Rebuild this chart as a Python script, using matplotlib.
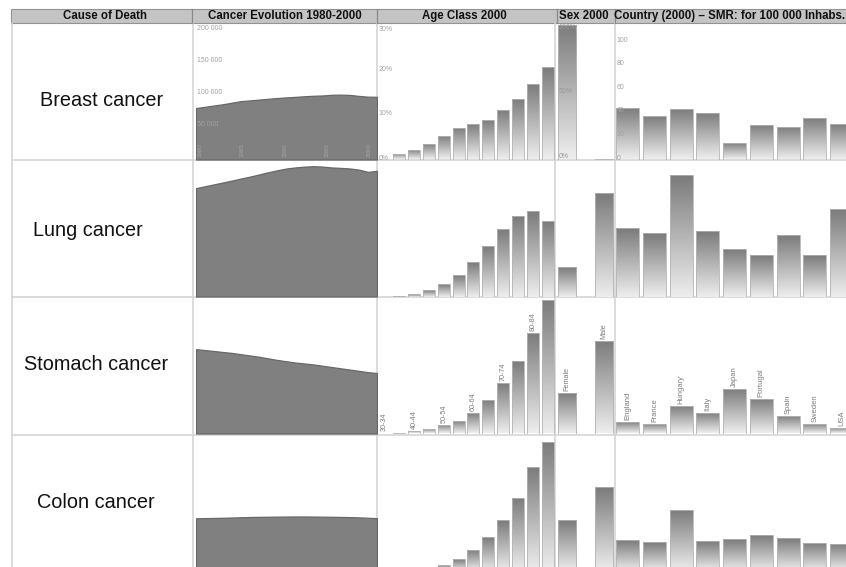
import numpy as np
import matplotlib
matplotlib.use('Agg')
import matplotlib.pyplot as plt
from matplotlib.colors import LinearSegmentedColormap
from matplotlib.patches import Rectangle
from matplotlib.lines import Line2D

plt.rcParams['font.family'] = ['Liberation Sans', 'DejaVu Sans']

# ---------------- data ----------------
headers = ["Cause of Death", "Cancer Evolution 1980-2000", "Age Class 2000",
           "Sex 2000", "Country (2000) \u2013 SMR: for 100 000 Inhabs."]
causes = ["Breast cancer", "Lung cancer", "Stomach cancer", "Colon cancer"]

years = list(range(1980, 2001))
year_ticks = [1980, 1985, 1990, 1995, 2000]
evol_breast = [80.5, 82.5, 84.5, 86.5, 89.0, 91.4, 92.5, 93.8, 95.0, 96.2, 97.2,
               98.0, 99.0, 99.7, 100.2, 101.2, 101.5, 101.0, 99.5, 98.3, 98.1]
evol_lung = [169.5, 172.5, 175.5, 178.5, 181.5, 184.7, 187.7, 191.0, 194.5, 197.5, 200.3,
             202.0, 203.2, 203.9, 203.2, 201.9, 201.2, 200.3, 198.5, 195.0, 196.6]
evol_stomach = [132.0, 130.5, 129.0, 127.5, 126.0, 124.0, 122.0, 120.0, 117.5, 115.0, 113.0,
                111.0, 109.5, 108.0, 106.0, 104.0, 102.0, 100.0, 98.0, 96.0, 94.5]
evol_colon = [82.8, 83.0, 83.3, 83.6, 84.0, 84.4, 84.8, 85.0, 85.2, 85.4, 85.5,
              85.6, 85.6, 85.5, 85.3, 85.1, 84.9, 84.6, 84.2, 83.6, 83.0]
evol_ticks = [50000, 100000, 150000, 200000]
evol_tick_labels = ["50 000", "100 000", "150 000", "200 000"]

age_classes = ["30-34", "35-39", "40-44", "45-49", "50-54", "55-59",
               "60-64", "65-69", "70-74", "75-79", "80-84", "85+"]
age_breast = [0.0, 1.2, 2.2, 3.6, 5.4, 7.0, 8.1, 9.0, 11.1, 13.6, 16.9, 20.9]
age_lung = [0.0, 0.07, 0.52, 1.49, 2.84, 4.85, 7.76, 11.34, 15.3, 18.06, 19.25, 16.94]
age_stomach = [0.0, 0.22, 0.6, 0.97, 1.87, 2.84, 4.55, 7.6, 11.3, 16.4, 22.7, 30.0]
age_colon = [0.0, 0.1, 0.3, 0.8, 1.4, 2.7, 4.8, 7.6, 11.5, 16.5, 23.5, 29.2]
age_ticks = [0, 10, 20, 30]

sexes = ["Female", "Male"]
sex_breast = [99.5, 0.3]
sex_lung = [22.1, 76.2]
sex_stomach = [29.7, 68.3]
sex_colon = [37.6, 62.2]
sex_ticks = [0, 50, 100]

countries = ["England", "France", "Hungary", "Italy", "Japan",
             "Portugal", "Spain", "Sweden", "USA"]
smr_breast = [43.9, 36.9, 42.5, 39.2, 14.2, 29.2, 27.8, 34.9, 29.8]
smr_lung = [58.2, 53.9, 103.5, 55.4, 40.2, 34.8, 52.0, 35.3, 74.6]
smr_stomach = [10.0, 7.8, 23.5, 17.1, 37.9, 28.9, 14.8, 7.8, 4.4]
smr_colon = [26.2, 24.5, 52.2, 25.4, 27.0, 30.4, 28.1, 23.9, 23.4]
smr_ticks = [0, 20, 40, 60, 80, 100]

evol = [evol_breast, evol_lung, evol_stomach, evol_colon]
ages = [age_breast, age_lung, age_stomach, age_colon]
sexv = [sex_breast, sex_lung, sex_stomach, sex_colon]
smrs = [smr_breast, smr_lung, smr_stomach, smr_colon]

# ---------------- layout ----------------
W, H = 846, 567
fig = plt.figure(figsize=(W / 100, H / 100), dpi=100)
fig.patch.set_facecolor('white')

row_top = [24, 161, 298, 436]
row_bot = [159.5, 296.5, 433.5, 571]
label_x = [40, 33, 24, 37]
label_y = [100, 230, 365, 502]


def px_axes(x0, x1, y0, y1):
    ax = fig.add_axes([x0 / W, 1 - y1 / H, (x1 - x0) / W, (y1 - y0) / H])
    ax.set_facecolor('none')
    ax.axis('off')
    ax.set_zorder(2)
    return ax


bg = fig.add_axes([0, 0, 1, 1])
bg.set_xlim(0, W)
bg.set_ylim(H, 0)
bg.axis('off')
bg.set_zorder(0)

# grid lines
gcol = '#d2d2d2'
for xv in [12, 193, 377, 555, 614.5]:
    bg.add_line(Line2D([xv, xv], [23, H], color=gcol, lw=1.1))
for yv in [160.3, 297.3, 434.8]:
    bg.add_line(Line2D([12, W], [yv, yv], color=gcol, lw=1.1))

# header
bg.add_patch(Rectangle((11, 9), W - 11, 14, facecolor='#c4c4c4',
                       edgecolor='#929292', lw=0.8))
for xv in [192, 377, 557, 615]:
    bg.add_line(Line2D([xv, xv], [9, 23], color='#8a8a8a', lw=0.9))
hx = [105, 285, 464, 583.5, 730]
for t, x in zip(headers, hx):
    bg.text(x, 16.3, t, ha='center', va='center', fontsize=8.3,
            fontweight='bold', color='#111111')

# cause labels
for i, c in enumerate(causes):
    bg.text(label_x[i], label_y[i], c, ha='left', va='center', fontsize=14.3,
            color='#111111',
            bbox=dict(facecolor='white', edgecolor='none', pad=3))

grad = np.linspace(1, 0, 256).reshape(-1, 1)
cmap = LinearSegmentedColormap.from_list('bar', ['#eeeeee', '#7b7b7b'])
tick_col = '#a2a2a2'


def gbar(ax, xs, hs, width):
    rects = ax.bar(xs, hs, width, color='none', edgecolor='#b4b4b4',
                   linewidth=0.6, zorder=3)
    for r in rects:
        h = r.get_height()
        if h <= 0:
            continue
        x0 = r.get_x()
        w = r.get_width()
        im = ax.imshow(grad, extent=[x0, x0 + w, 0, h], aspect='auto',
                       cmap=cmap, vmin=0, vmax=1, zorder=2,
                       interpolation='bilinear')
        im.set_clip_path(r)
    return rects


for r in range(4):
    y0, y1 = row_top[r], row_bot[r]

    # --- evolution area ---
    ax = px_axes(196, 377, y0, y1)
    ax.fill_between(years, 0, [v * 1000 for v in evol[r]], color='#808080',
                    edgecolor='#686868', lw=0.9, zorder=2)
    ax.set_xlim(1980, 2000)
    ax.set_ylim(0, 212000)
    if r == 0:
        for tv, tl in zip(evol_ticks, evol_tick_labels):
            ax.text(1980.15, tv, tl, ha='left', va='bottom', fontsize=5,
                    color=tick_col, zorder=4)
        for k, yt in enumerate(year_ticks):
            ax.text(0.022 + k * 0.2335, 0.015, str(yt), transform=ax.transAxes,
                    rotation=90, ha='center', va='bottom', fontsize=4.5,
                    color='#a4a4a4', zorder=4)

    # --- age classes ---
    ax = px_axes(377, 555, y0, y1)
    xa = np.arange(len(age_classes))
    gbar(ax, xa, ages[r], 0.8)
    ax.set_xlim(-0.5, len(age_classes) - 0.5)
    ax.set_ylim(0, 30.5)
    if r == 0:
        for tv in age_ticks:
            ax.text(-0.4, tv, f"{tv}%", ha='left',
                    va='top' if tv == age_ticks[-1] else 'baseline',
                    fontsize=5, color=tick_col, zorder=4)
    if r == 2:
        for i in range(0, len(age_classes) - 1, 2):
            ax.annotate(age_classes[i], (xa[i], ages[r][i]), xytext=(0, 1.5),
                        textcoords='offset points', rotation=90, ha='center',
                        va='bottom', fontsize=5.2, color='#7c7c7c', zorder=4)

    # --- sex ---
    ax = px_axes(555, 614.5, y0, y1)
    xs = np.arange(len(sexes))
    gbar(ax, xs, sexv[r], 0.49)
    ax.set_xlim(-0.324, 1.289)
    ax.set_ylim(0, 100)
    if r == 0:
        for tv in sex_ticks:
            va = 'top' if tv == 100 else ('bottom' if tv == 0 else 'center')
            ax.text(-0.22, tv, f"{tv}%", ha='left', va=va, fontsize=5,
                    color='#9a9a9a', zorder=4)
    if r == 2:
        for i, s in enumerate(sexes):
            ax.annotate(s, (xs[i], sexv[r][i]), xytext=(0, 1.5),
                        textcoords='offset points', rotation=90, ha='center',
                        va='bottom', fontsize=5.2, color='#7c7c7c', zorder=4)

    # --- countries ---
    ax = px_axes(614.5, W, y0, y1)
    xc = np.arange(len(countries))
    gbar(ax, xc, smrs[r], 0.86)
    ax.set_xlim(-0.5, -0.5 + (W - 614.5) / 26.7)
    ax.set_ylim(0, 115)
    if r == 0:
        for tv in smr_ticks:
            ax.text(-0.42, tv, str(tv), ha='left', va='baseline', fontsize=5,
                    color=tick_col, zorder=4)
    if r == 2:
        for i, c in enumerate(countries):
            ax.annotate(c, (xc[i], smrs[r][i]), xytext=(0, 1.5),
                        textcoords='offset points', rotation=90, ha='center',
                        va='bottom', fontsize=5.5, color='#7c7c7c', zorder=4)

fig.savefig('out.png', dpi=100)
